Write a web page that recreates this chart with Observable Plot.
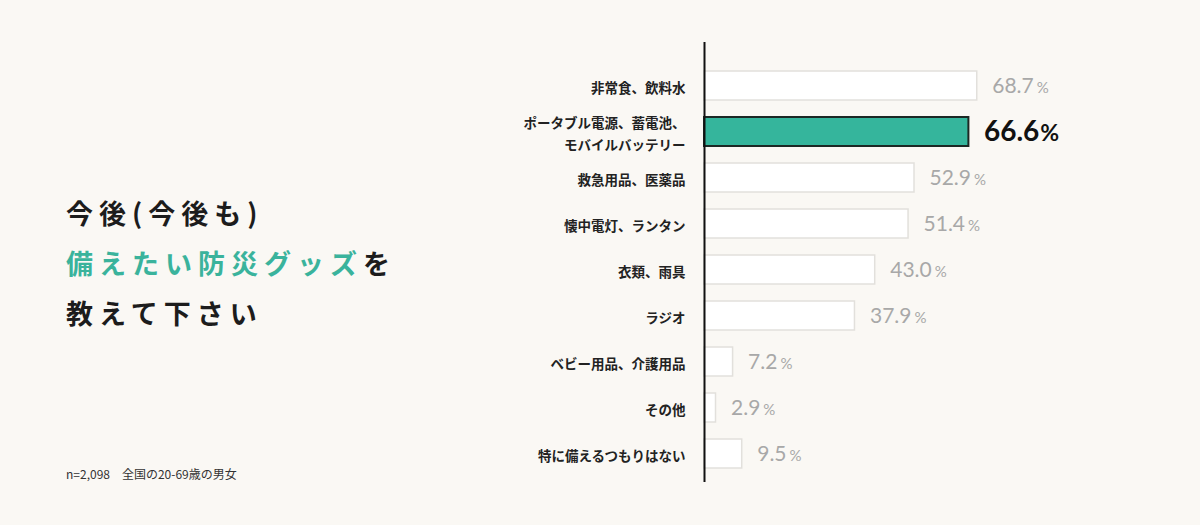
<!DOCTYPE html>
<html>
<head>
<meta charset="utf-8">
<script src="https://cdn.jsdelivr.net/npm/d3@7"></script>
<script src="https://cdn.jsdelivr.net/npm/@observablehq/plot@0.6"></script>
<style>
  html, body { margin: 0; padding: 0; background: #faf8f4; }
  #wrap { position: relative; width: 1200px; height: 525px; overflow: hidden; }
  #chart { position: absolute; left: 0; top: 0; }
  #title {
    position: absolute; left: 66px; top: 188px;
    font-family: "Noto Sans CJK JP", sans-serif; font-weight: 700;
    font-size: 27px; line-height: 50px; letter-spacing: 6px; color: #1c1c1c;
    white-space: nowrap;
  }
  #title .hl { color: #3ab39c; }
  #note {
    position: absolute; left: 66px; top: 466px;
    font-family: "Noto Sans CJK JP", sans-serif; font-size: 12px; line-height: 16px;
    color: #333; white-space: pre;
  }
</style>
</head>
<body>
<div id="wrap">
  <div id="chart"></div>
  <div id="title">今後(今後も)<br><span class="hl">備えたい防災グッズ</span>を<br>教えて下さい</div>
  <div id="note">n=2,098　全国の20-69歳の男女</div>
</div>
<script>
const categories = [
  "非常食、飲料水",
  "ポータブル電源、蓄電池、\nモバイルバッテリー",
  "救急用品、医薬品",
  "懐中電灯、ランタン",
  "衣類、雨具",
  "ラジオ",
  "ベビー用品、介護用品",
  "その他",
  "特に備えるつもりはない"
];
const values = [68.7, 66.6, 52.9, 51.4, 43.0, 37.9, 7.2, 2.9, 9.5];
const highlighted = ["ポータブル電源、蓄電池、\nモバイルバッテリー"];

const data = categories.map((c, i) => ({category: c, value: values[i], hl: highlighted.includes(c)}));
const normal = data.filter(d => !d.hl);
const hot = data.filter(d => d.hl);

const teal = "#35b59c";
const grayText = "#a8a8a8";
const hotText = "#111111";
const jp = "'Noto Sans CJK JP', sans-serif";
const num = "Lato, 'Noto Sans', sans-serif";

const svg = Plot.plot({
  width: 1200,
  height: 525,
  marginLeft: 704,
  marginRight: 99,
  marginTop: 42,
  marginBottom: 43,
  style: {background: "transparent", overflow: "visible"},
  x: {domain: [0, 100], axis: null},
  y: {domain: categories, axis: null, paddingInner: 0.38, paddingOuter: 0.463, align: 0.673},
  marks: [
    Plot.barX(normal, {x: "value", y: "category", fill: "#ffffff", stroke: "#e2e0dc", strokeWidth: 1.5}),
    Plot.barX(hot, {x: "value", y: "category", fill: teal, stroke: "#1c2824", strokeWidth: 2}),
    Plot.ruleX([0], {stroke: "#111", strokeWidth: 2}),
    Plot.text(data, {x: 0, y: "category", text: "category", dx: -19, textAnchor: "end",
      fontSize: 13.5, fontWeight: "bold", fill: "#222", lineHeight: 1.65, fontFamily: jp}),
    Plot.text(normal, {x: "value", y: "category", text: d => d.value.toFixed(1), dx: 15, textAnchor: "start",
      fontSize: 21, fill: grayText, fontFamily: num}),
    Plot.text(hot, {x: "value", y: "category", text: d => d.value.toFixed(1), dx: 15, textAnchor: "start",
      fontSize: 28, fontWeight: "bold", fill: hotText, fontFamily: num})
  ]
});

d3.select(svg).selectAll("text").each(function() {
  const t = this.textContent;
  if (!/^\d+\.\d$/.test(t)) return;
  const g = this.closest("g");
  const f = (g && g.getAttribute("fill")) || this.getAttribute("fill") || "";
  const isHot = f.toLowerCase() === hotText;
  d3.select(this).append("tspan")
    .attr("dx", isHot ? 1 : 3)
    .attr("font-size", isHot ? 23 : 15)
    .text("%");
});

document.getElementById("chart").appendChild(svg);
</script>
</body>
</html>
